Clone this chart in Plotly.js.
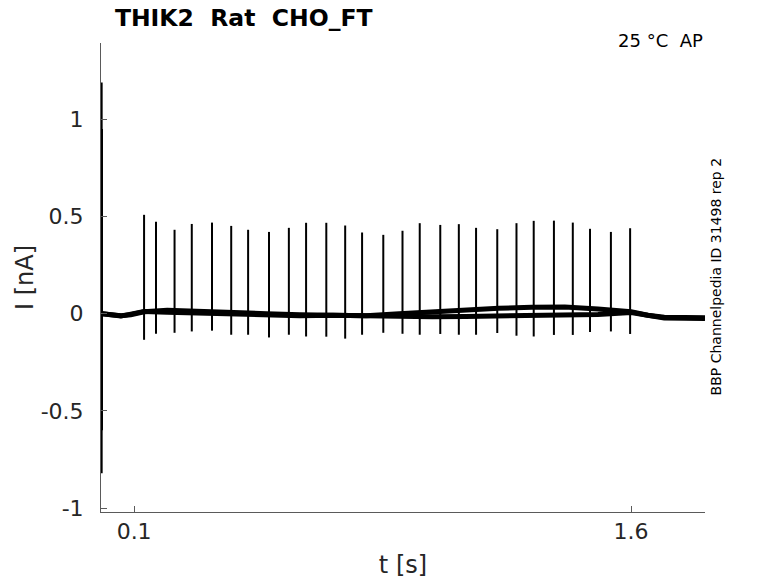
<!DOCTYPE html>
<html>
<head>
<meta charset="utf-8">
<script src="https://cdn.plot.ly/plotly-3.0.1.min.js"></script>
<style>
  html, body { margin: 0; padding: 0; background: #ffffff; }
  #grafico { width: 778px; height: 583px; }
</style>
</head>
<body>
<div id="grafico"></div>
<script>
"use strict";

// Tiempos de los potenciales (s) y corriente pico / valle (nA)
const tiemposPico = [0.130, 0.166, 0.222, 0.274, 0.335, 0.393, 0.444, 0.507, 0.567, 0.619,
                     0.680, 0.737, 0.788, 0.852, 0.910, 0.962, 1.024, 1.080, 1.132, 1.196,
                     1.254, 1.306, 1.367, 1.424, 1.476, 1.539, 1.597];
const corrientePico = [0.509, 0.473, 0.432, 0.462, 0.469, 0.452, 0.432, 0.421, 0.442, 0.468,
                       0.468, 0.454, 0.418, 0.406, 0.427, 0.466, 0.457, 0.461, 0.442, 0.435,
                       0.466, 0.478, 0.479, 0.469, 0.437, 0.421, 0.440];
const corrienteValle = [-0.134, -0.103, -0.098, -0.091, -0.087, -0.108, -0.108, -0.122, -0.108, -0.117,
                        -0.118, -0.128, -0.108, -0.098, -0.103, -0.108, -0.104, -0.108, -0.108, -0.099,
                        -0.113, -0.117, -0.109, -0.109, -0.094, -0.091, -0.104];

// Transitorio capacitivo al inicio
const tiempoTransitorio = [0.002, 0.003];
const transitorioAlto = [1.19, 0.95];
const transitorioBajo = [-0.82, -0.60];

// Linea base de los barridos (s, nA)
const tiemposBase = [0.004, 0.03, 0.06, 0.09, 0.13, 0.2, 0.3, 0.4, 0.5, 0.6, 0.7, 0.8, 0.9,
                     1.0, 1.1, 1.2, 1.3, 1.4, 1.5, 1.6, 1.65, 1.7, 1.823];
const baseBarrido1 = [0.0, -0.005, -0.01, -0.005, 0.01, 0.018, 0.01, 0.005, 0.0, -0.005, -0.01, -0.01, 0.0,
                      0.01, 0.02, 0.028, 0.033, 0.035, 0.025, 0.01, -0.008, -0.018, -0.02];
const baseBarrido2 = [0.0, -0.005, -0.012, -0.002, 0.012, 0.008, 0.003, -0.005, -0.01, -0.01, -0.008, -0.012, -0.015,
                      -0.015, -0.014, -0.013, -0.012, -0.01, -0.004, 0.006, -0.008, -0.022, -0.025];

// Ejes
const ticksX = [0.1, 1.6];
const etiquetasX = ["0.1", "1.6"];
const ticksY = [-1, -0.5, 0, 0.5, 1];
const etiquetasY = ["-1", "-0.5", "0", "0.5", "1"];

// Segmentos verticales (picos + transitorio) separados por null
const xPicos = [];
const yPicos = [];
tiempoTransitorio.forEach((t, i) => {
    xPicos.push(t, t, null);
    yPicos.push(transitorioAlto[i], transitorioBajo[i], null);
});
tiemposPico.forEach((t, i) => {
    xPicos.push(t, t, null);
    yPicos.push(corrientePico[i], corrienteValle[i], null);
});

const fuente = "DejaVu Sans, Liberation Sans, sans-serif";

const trazas = [
    {
        x: tiemposBase, y: baseBarrido1, type: "scatter", mode: "lines",
        line: { color: "#000000", width: 5 }, hoverinfo: "skip"
    },
    {
        x: tiemposBase, y: baseBarrido2, type: "scatter", mode: "lines",
        line: { color: "#000000", width: 5 }, hoverinfo: "skip"
    },
    {
        x: xPicos, y: yPicos, type: "scatter", mode: "lines",
        line: { color: "#000000", width: 2 }, connectgaps: false, hoverinfo: "skip"
    }
];

const layout = {
    width: 778,
    height: 583,
    margin: { l: 101, r: 73, t: 43, b: 71 },
    paper_bgcolor: "#ffffff",
    plot_bgcolor: "#ffffff",
    showlegend: false,
    font: { family: fuente, color: "#262626" },
    title: {
        text: "<b>THIK2\u00a0\u00a0Rat\u00a0\u00a0CHO_FT</b>",
        font: { family: fuente, size: 23.5, color: "#000000" },
        x: 0.023, xref: "paper", xanchor: "left",
        y: 1 - 18 / 583, yref: "container", yanchor: "middle"
    },
    xaxis: {
        range: [0, 1.823],
        tickvals: ticksX,
        ticktext: etiquetasX,
        ticks: "inside",
        ticklen: 6,
        tickcolor: "#5a5a5a",
        showline: true,
        linecolor: "#5a5a5a",
        linewidth: 1,
        showgrid: false,
        zeroline: false,
        tickfont: { size: 22, color: "#262626" },
        title: { text: "t [s]", font: { size: 24, color: "#262626" }, standoff: 12 }
    },
    yaxis: {
        range: [-1.02, 1.393],
        tickvals: ticksY,
        ticktext: etiquetasY,
        ticks: "inside",
        ticklen: 6,
        tickcolor: "#5a5a5a",
        showline: true,
        linecolor: "#5a5a5a",
        linewidth: 1,
        showgrid: false,
        zeroline: false,
        ticklabelstandoff: 12,
        tickfont: { size: 22, color: "#262626" },
        title: { text: "I [nA]", font: { size: 24, color: "#262626" }, standoff: 0 }
    },
    annotations: [
        {
            text: "25 °C\u00a0\u00a0AP",
            xref: "paper", yref: "paper", x: 1, y: 1.006,
            xanchor: "right", yanchor: "middle", showarrow: false,
            font: { family: fuente, size: 18, color: "#000000" }
        },
        {
            text: "BBP Channelpedia ID 31498 rep 2",
            xref: "paper", yref: "paper", x: 1.018, y: 0.502,
            xanchor: "center", yanchor: "middle", textangle: -90, showarrow: false,
            font: { family: fuente, size: 14, color: "#000000" }
        }
    ]
};

const config = { displayModeBar: false, staticPlot: true };

Plotly.newPlot("grafico", trazas, layout, config);
</script>
</body>
</html>
